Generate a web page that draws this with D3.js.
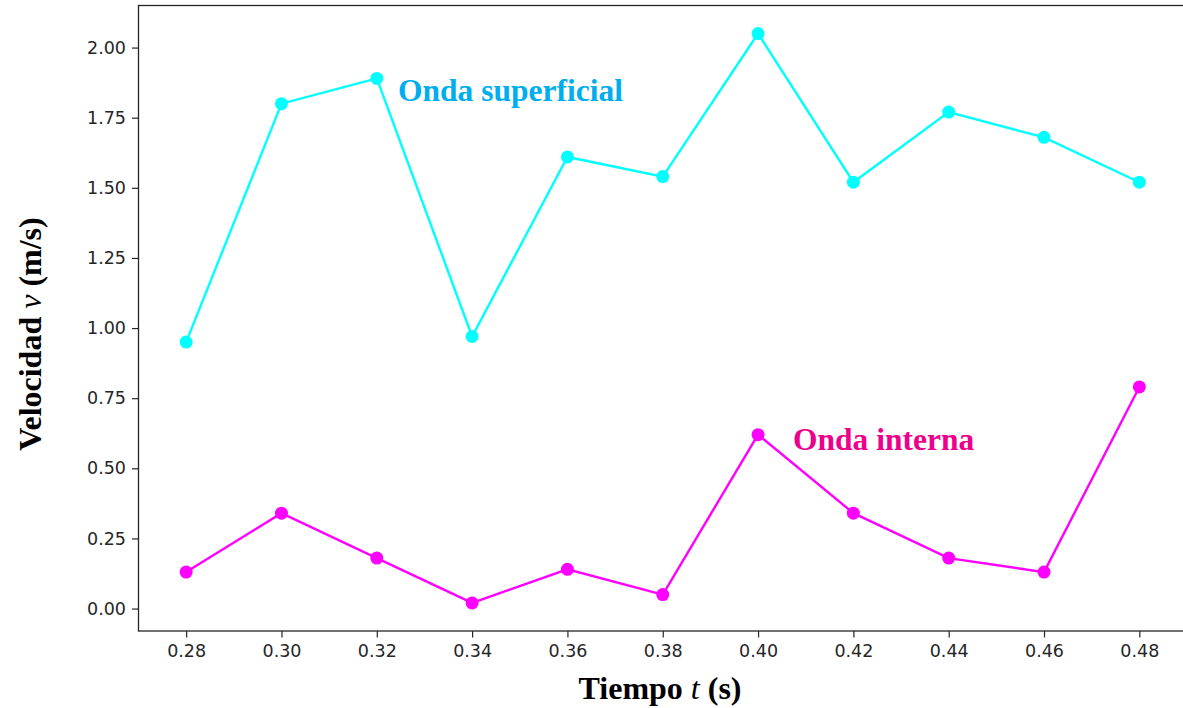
<!DOCTYPE html>
<html>
<head>
<meta charset="utf-8">
<script src="https://cdn.jsdelivr.net/npm/d3@7"></script>
<style>
  body { margin: 0; background: #fff; }
  svg { display: block; }
  .tick text { font-family: "DejaVu Sans", sans-serif; font-size: 17.5px; fill: #262626; }
  .tick line { stroke: #262626; stroke-width: 1.2px; }
  .label { font-family: "Liberation Serif", "Times New Roman", serif; font-weight: bold; font-size: 32px; fill: #000; }
  .note { font-family: "Liberation Serif", "Times New Roman", serif; font-weight: bold; font-size: 31.5px; }
</style>
</head>
<body>
<svg width="1183" height="708"></svg>
<script>
// Data
let tiempo = [0.28, 0.30, 0.32, 0.34, 0.36, 0.38, 0.40, 0.42, 0.44, 0.46, 0.48]
let superficial = [0.95, 1.80, 1.89, 0.97, 1.61, 1.54, 2.05, 1.52, 1.77, 1.68, 1.52]
let interna = [0.13, 0.34, 0.18, 0.02, 0.14, 0.05, 0.62, 0.34, 0.18, 0.13, 0.79]
let xTicks = [0.28, 0.30, 0.32, 0.34, 0.36, 0.38, 0.40, 0.42, 0.44, 0.46, 0.48]
let yTicks = [0, 0.25, 0.5, 0.75, 1, 1.25, 1.5, 1.75, 2]

let margin = { left: 138.5, right: -4, top: 5.5, bottom: 77 }
let W = 1183, H = 708
let w = W - margin.left - margin.right
let h = H - margin.top - margin.bottom

let svg = d3.select('svg')

let x = d3.scaleLinear().domain([0.27, 0.49]).range([margin.left, margin.left + w])
let y = d3.scaleLinear().domain([-0.08, 2.15]).range([margin.top + h, margin.top])

// Axes
svg.append('g')
  .attr('transform', `translate(0,${margin.top + h})`)
  .call(d3.axisBottom(x).tickValues(xTicks).tickFormat(d3.format('.2f')).tickSize(6.5).tickPadding(7))
  .call(g => g.select('.domain').remove())

svg.append('g')
  .attr('transform', `translate(${margin.left},0)`)
  .call(d3.axisLeft(y).tickValues(yTicks).tickFormat(d3.format('.2f')).tickSize(6.5).tickPadding(6))
  .call(g => g.select('.domain').remove())

// Frame
svg.append('rect')
  .attr('x', margin.left)
  .attr('y', margin.top)
  .attr('width', w)
  .attr('height', h)
  .attr('fill', 'none')
  .attr('stroke', '#262626')
  .attr('stroke-width', 1.3)

// Series
let series = [
  { vals: superficial, color: '#00ffff' },
  { vals: interna, color: '#ff00ff' }
]

let line = d3.line().x((d, i) => x(tiempo[i])).y(d => y(d))

series.forEach(s => {
  svg.append('path')
    .datum(s.vals)
    .attr('d', line)
    .attr('fill', 'none')
    .attr('stroke', s.color)
    .attr('stroke-width', 2.4)

  svg.append('g')
    .selectAll('circle')
    .data(s.vals)
    .enter()
    .append('circle')
    .attr('cx', (d, i) => x(tiempo[i]))
    .attr('cy', d => y(d))
    .attr('r', 6.5)
    .attr('fill', s.color)
})

// Annotations
svg.append('text')
  .attr('class', 'note')
  .attr('x', 398)
  .attr('y', 101)
  .attr('fill', '#00aeef')
  .text('Onda superficial')

svg.append('text')
  .attr('class', 'note')
  .attr('x', 793)
  .attr('y', 450)
  .attr('fill', '#ec008c')
  .text('Onda interna')

// Axis labels
let xl = svg.append('text')
  .attr('class', 'label')
  .attr('x', 660)
  .attr('y', 699)
  .attr('text-anchor', 'middle')
xl.append('tspan').text('Tiempo ')
xl.append('tspan').attr('font-style', 'italic').attr('font-weight', 'normal').text('t')
xl.append('tspan').text(' (s)')

let yl = svg.append('text')
  .attr('class', 'label')
  .attr('transform', 'translate(41,334) rotate(-90)')
  .attr('text-anchor', 'middle')
yl.append('tspan').text('Velocidad ')
yl.append('tspan').attr('font-style', 'italic').attr('font-weight', 'normal').text('v')
yl.append('tspan').text(' (m/s)')
</script>
</body>
</html>
